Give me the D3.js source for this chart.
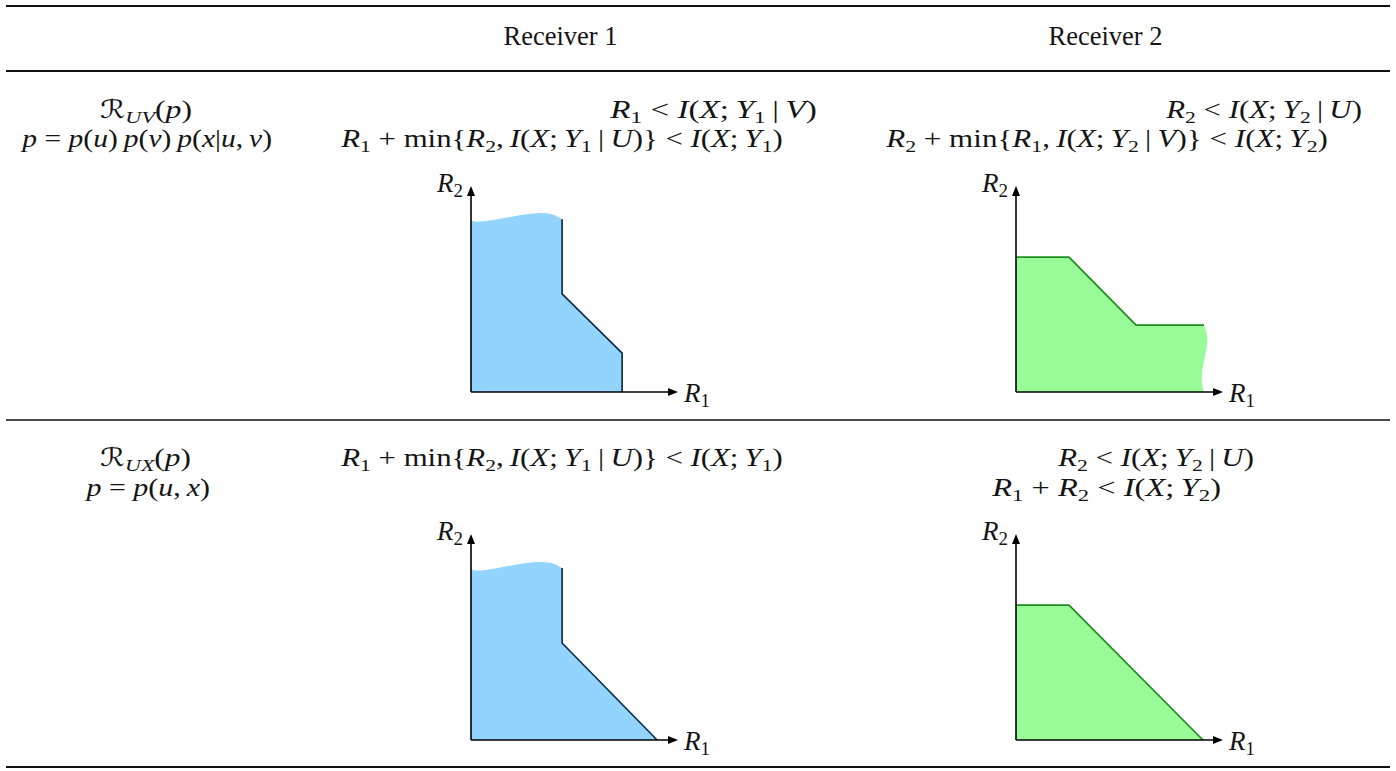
<!DOCTYPE html>
<html>
<head>
<meta charset="utf-8">
<script src="https://cdn.jsdelivr.net/npm/d3@7"></script>
<style>
html, body { margin: 0; padding: 0; background: #fff; }
svg text { white-space: pre; }
</style>
</head>
<body>
<svg id="chart" width="1396" height="771"></svg>
<script>
// ---- table contents ----
var columns = ["Receiver 1", "Receiver 2"];
var regionNames = ["ℛ_{UV}(p)", "ℛ_{UX}(p)"];
var distributions = ["p = p(u)\u2009p(v)\u2009p(x|u,\u2009v)", "p = p(u,\u2009x)"];
var boundsUV = [
    ["R_1 < I(X;\u2009Y_1\u2009|\u2009V)", "R_1 + min{R_2,\u2009I(X;\u2009Y_1\u2009|\u2009U)} < I(X;\u2009Y_1)"],
    ["R_2 < I(X;\u2009Y_2\u2009|\u2009U)", "R_2 + min{R_1,\u2009I(X;\u2009Y_2\u2009|\u2009V)} < I(X;\u2009Y_2)"]
];
var boundsUX = [
    ["R_1 + min{R_2,\u2009I(X;\u2009Y_1\u2009|\u2009U)} < I(X;\u2009Y_1)"],
    ["R_2 < I(X;\u2009Y_2\u2009|\u2009U)", "R_1 + R_2 < I(X;\u2009Y_2)"]
];

// ---- rate regions, corners in rate units (axes run 0..10) ----
// wave = open side of the region (drawn without outline)
var regionUV1 = [
    {wave: true, pts: [[0, 8.35], [0.8, 8.31], [3.2, 8.68], [4.4, 8.38]]},
    {pts: [[4.4, 8.38], [4.4, 4.76], [7.3, 1.89], [7.3, 0]]}
];
var regionUV2 = [
    {pts: [[0, 6.55], [2.56, 6.55], [5.8, 3.25], [9.08, 3.25]]},
    {wave: true, pts: [[9.08, 3.25], [9.23, 2.38], [8.99, 0.92], [9.08, 0]]}
];
var regionUX1 = [
    {wave: true, pts: [[0, 8.3], [0.8, 8.27], [3.2, 8.64], [4.4, 8.35]]},
    {pts: [[4.4, 8.35], [4.4, 4.71], [8.99, 0]]}
];
var regionUX2 = [
    {pts: [[0, 6.55], [2.56, 6.55], [9.03, 0]]}
];

// ---- layout ----
var svg = d3.select("#chart");
var FONT = "'Liberation Serif', 'DejaVu Serif', 'DejaVu Sans', serif";
var INK = "#141414";
var blueFill = "#92d4fd", blueEdge = "#0d2f4c";
var greenFill = "#98fb98", greenEdge = "#1e8c1e";

svg.append("defs").append("marker")
    .attr("id", "arr")
    .attr("viewBox", "0 -5 10 10")
    .attr("refX", 4).attr("refY", 0)
    .attr("markerWidth", 10).attr("markerHeight", 10)
    .attr("markerUnits", "userSpaceOnUse")
    .attr("orient", "auto")
    .append("path").attr("d", "M0,-4L10,0L0,4Z").attr("fill", "#000");

// rules
[[6, 2], [71, 1.8], [420, 1.6], [767, 2]].forEach(function(r) {
    svg.append("line").attr("x1", 6).attr("x2", 1390).attr("y1", r[0]).attr("y2", r[0])
        .attr("stroke", "#111").attr("stroke-width", r[1]);
});

// headers
var headerX = [560.5, 1105.5];
columns.forEach(function(c, i) {
    svg.append("text").attr("x", headerX[i]).attr("y", 45)
        .attr("text-anchor", "middle")
        .attr("font-family", FONT).attr("font-size", 26.5).attr("fill", INK)
        .text(c);
});

// tiny math typesetter: letters italic, "min" upright, _x / _{xy} subscripts
function tokens(s) {
    var out = [], i = 0;
    while (i < s.length) {
        if (s.substr(i, 3) === "min") { out.push({t: "min", it: false}); i += 3; continue; }
        var c = s[i];
        if (c === "_") {
            var sub;
            if (s[i + 1] === "{") { var k = s.indexOf("}", i); sub = s.slice(i + 2, k); i = k + 1; }
            else { sub = s[i + 1]; i += 2; }
            out.push({t: sub, it: /[A-Za-z]/.test(sub), sub: true});
            continue;
        }
        out.push({t: c, it: /[A-Za-z]/.test(c)});
        i++;
    }
    return out;
}

function mathText(parent, str, size, yBase) {
    var t = parent.append("text").attr("y", yBase)
        .attr("font-family", FONT).attr("font-size", size).attr("fill", INK);
    var shift = 0;
    tokens(str).forEach(function(tok) {
        var want = tok.sub ? Math.round(size * 0.2) : 0;
        var ts = t.append("tspan").text(tok.t).attr("font-style", tok.it ? "italic" : "normal");
        if (tok.sub) ts.attr("font-size", size * 0.7);
        if (want !== shift) { ts.attr("dy", want - shift); shift = want; }
    });
    return t;
}

// stretch a text horizontally so it spans x0..x1
function fitText(t, x0, x1) {
    var b = t.node().getBBox();
    var sx = (x1 - x0) / b.width;
    t.attr("transform", "translate(" + x0 + ",0) scale(" + sx + ",1) translate(" + (-b.x) + ",0)");
}

// row labels
var labelSpans = [[[100, 192], [20, 272]], [[100, 191], [84, 210]]];
var rowBase = [[118, 147], [466, 496]];
regionNames.forEach(function(n, r) {
    fitText(mathText(svg, n, 25, rowBase[r][0]), labelSpans[r][0][0], labelSpans[r][0][1]);
    fitText(mathText(svg, distributions[r], 25, rowBase[r][1]), labelSpans[r][1][0], labelSpans[r][1][1]);
});

// constraint lines
var boundSpans = [
    [[[609, 817], [340, 783]], [[1165, 1362], [885, 1328]]],
    [[[340, 783]], [[1057, 1254], [991, 1221]]]
];
[boundsUV, boundsUX].forEach(function(rowBounds, r) {
    rowBounds.forEach(function(lines, c) {
        lines.forEach(function(line, k) {
            var sp = boundSpans[r][c][k];
            fitText(mathText(svg, line, 25, rowBase[r][k]), sp[0], sp[1]);
        });
    });
});

// region plots
function drawPlot(ox, oy, segs, fill, edge) {
    var g = svg.append("g");
    var x = d3.scaleLinear().domain([0, 10]).range([ox, ox + 207]);
    var y = d3.scaleLinear().domain([0, 10]).range([oy, oy - 206]);
    var straight = d3.line().x(function(d) { return x(d[0]); }).y(function(d) { return y(d[1]); });
    var wavy = d3.line().x(function(d) { return x(d[0]); }).y(function(d) { return y(d[1]); })
        .curve(d3.curveNatural);

    var dFill = "M" + x(0) + "," + y(0);
    segs.forEach(function(s) { dFill += "L" + (s.wave ? wavy : straight)(s.pts).slice(1); });
    dFill += "Z";
    g.append("path").attr("d", dFill).attr("fill", fill);

    segs.filter(function(s) { return !s.wave; }).forEach(function(s) {
        g.append("path").attr("d", straight(s.pts))
            .attr("fill", "none").attr("stroke", edge).attr("stroke-width", 1.7)
            .attr("stroke-linejoin", "miter");
    });

    // axes with arrow heads
    g.append("line").attr("x1", x(0)).attr("y1", y(0)).attr("x2", x(10) - 6).attr("y2", y(0))
        .attr("stroke", "#000").attr("stroke-width", 1.6).attr("marker-end", "url(#arr)");
    g.append("line").attr("x1", x(0)).attr("y1", y(0)).attr("x2", x(0)).attr("y2", y(10) + 6)
        .attr("stroke", "#000").attr("stroke-width", 1.6).attr("marker-end", "url(#arr)");

    mathText(g, "R_2", 27, y(10) + 6).attr("x", x(0) - 8).attr("text-anchor", "end");
    mathText(g, "R_1", 27, y(0) + 10).attr("x", x(10) + 6);
}

var plotX = [471, 1016], plotY = [392, 740];
drawPlot(plotX[0], plotY[0], regionUV1, blueFill, blueEdge);
drawPlot(plotX[1], plotY[0], regionUV2, greenFill, greenEdge);
drawPlot(plotX[0], plotY[1], regionUX1, blueFill, blueEdge);
drawPlot(plotX[1], plotY[1], regionUX2, greenFill, greenEdge);
</script>
</body>
</html>
